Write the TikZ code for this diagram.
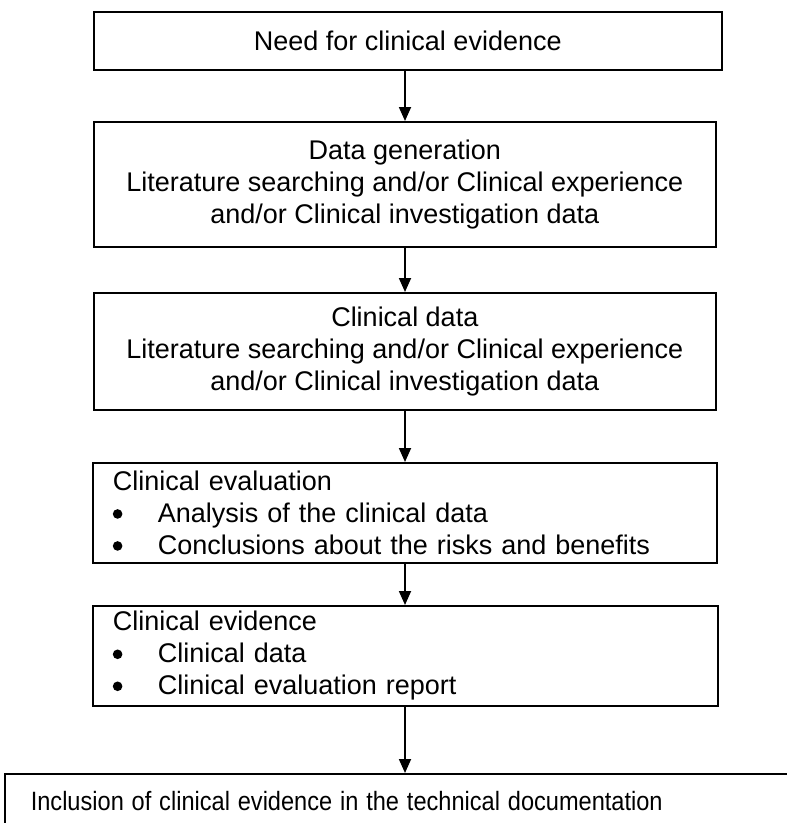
\documentclass[tikz,border=0pt]{standalone}
\usepackage{fontspec}
\setmainfont{Liberation Sans}
\usetikzlibrary{arrows.meta}
\tikzset{
  box/.style={draw, line width=1.6pt, inner sep=0pt, anchor=north west,
    font=\fontsize{27}{32}\selectfont},
  arr/.style={line width=1.8pt, -{Triangle[width=12pt,length=14pt]}},
}
\newcommand{\bul}{\makebox[45pt][l]{\tikz[x=1pt,y=1pt,baseline=0pt]\fill (5,8.5) circle[radius=4.8pt];}}
\begin{document}
\begin{tikzpicture}[x=1pt,y=-1pt]
\useasboundingbox (0,0) rectangle (787,823);
\clip (0,0) rectangle (787,823);
\coordinate (ax) at (405,0);
\node[box, minimum width=628pt, minimum height=58pt] (b1) at (93,11) {Need for clinical evidence};
\node[box, minimum width=622pt, minimum height=125pt, align=center] (b2) at (93,121)
  {Data generation\\Literature searching and/or Clinical experience\\and/or Clinical investigation data};
\node[box, minimum width=622pt, minimum height=117pt, align=center] (b3) at (93,292)
  {Clinical data\\Literature searching and/or Clinical experience\\and/or Clinical investigation data};
\node[box, text width=584pt, inner xsep=20pt, minimum height=100pt, align=left] (b4) at (92,462)
  {Clinical evaluation\\\bul Analysis of the clinical data\\\bul Conclusions about the risks and benefits};
\node[box, text width=585pt, inner xsep=20pt, minimum height=100pt, align=left] (b5) at (92,605)
  {Clinical evidence\\\bul Clinical data\\\bul Clinical evaluation report};
\node[box, text width=760pt, inner xsep=26pt, minimum height=60pt, align=left,
  font=\fontsize{26.5}{30}\selectfont] (b6) at (4,773)
  {\raisebox{6pt}{\scalebox{0.89}[1]{Inclusion of clinical evidence in the technical documentation}}};
\draw[arr] (b1.south -| ax) -- (b2.north -| ax);
\draw[arr] (b2.south -| ax) -- (b3.north -| ax);
\draw[arr] (b3.south -| ax) -- (b4.north -| ax);
\draw[arr] (b4.south -| ax) -- (b5.north -| ax);
\draw[arr] (b5.south -| ax) -- (b6.north -| ax);
\end{tikzpicture}
\end{document}
